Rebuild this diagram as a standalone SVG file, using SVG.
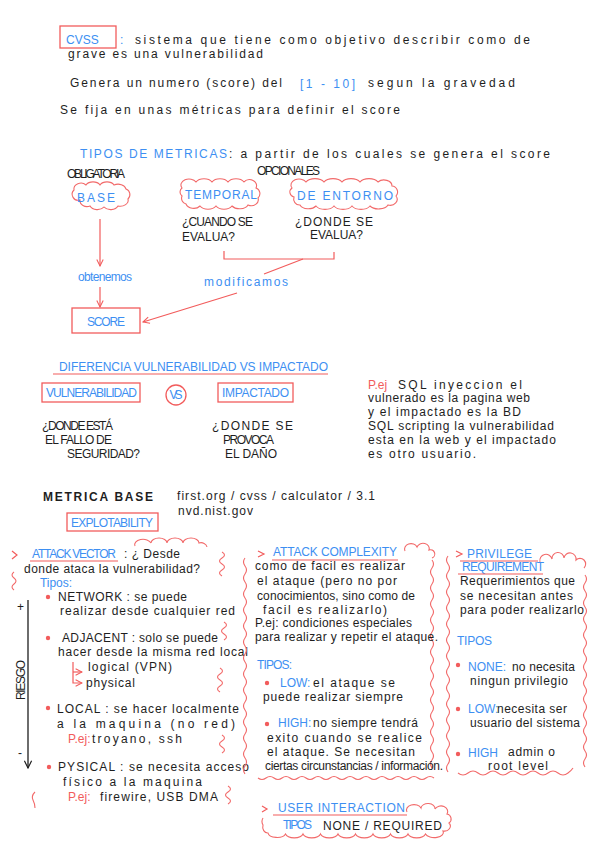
<svg xmlns="http://www.w3.org/2000/svg" width="601" height="848" viewBox="0 0 601 848">
<defs>
<style>
text{font-family:"Liberation Sans",Arial,sans-serif;font-size:12px;fill:#1e1e1e}
.b{fill:#3d8ff2}
.r{fill:#f25c5c}
.box{fill:none;stroke:#f25c5c;stroke-width:1.3}
.ln{fill:none;stroke:#f25c5c;stroke-width:1.2}
.wv{fill:none;stroke:#f26a6a;stroke-width:1.1}
.dot{fill:#f25c5c}
</style>
<marker id="arr" viewBox="0 0 10 10" refX="9" refY="5" markerWidth="8" markerHeight="8" orient="auto" markerUnits="userSpaceOnUse"><path d="M1,1 L9,5 L1,9" fill="none" stroke="#f25c5c" stroke-width="1.3"/></marker>
<marker id="arrk" viewBox="0 0 10 10" refX="9" refY="5" markerWidth="9" markerHeight="9" orient="auto" markerUnits="userSpaceOnUse"><path d="M1,1 L9,5 L1,9" fill="none" stroke="#1e1e1e" stroke-width="1.3"/></marker>
</defs>
<rect width="601" height="848" fill="#ffffff"/>

<g id="intro">
<g id="cvss"><rect class="box" x="60" y="26" width="56" height="22"/><text class="b" x="66" y="44" font-size="19">CVSS</text></g>
<text class="b" x="120" y="44">:</text>
<text x="135" y="44" font-size="13" textLength="395" lengthAdjust="spacing">sistema que tiene como objetivo describir  como de</text>
<text x="68" y="58" font-size="13" textLength="195" lengthAdjust="spacing">grave es una vulnerabilidad</text>
<text x="70" y="87" font-size="13" textLength="212" lengthAdjust="spacing">Genera un numero (score) del</text>
<text class="b" x="300" y="88" font-size="15" textLength="55" lengthAdjust="spacing">[1 - 10]</text>
<text x="368" y="87" font-size="13" textLength="147" lengthAdjust="spacing">segun la gravedad</text>
<text x="60" y="114" font-size="13" textLength="340" lengthAdjust="spacing">Se fija en unas métricas para definir el score</text>
</g>

<g id="tipos">
<text class="b" x="80" y="158" font-size="11" textLength="147" lengthAdjust="spacing">TIPOS DE METRICAS</text>
<text x="229" y="158" font-size="13" textLength="321" lengthAdjust="spacing">: a partir de los cuales se genera el score</text>
<text x="67" y="178" font-size="7" textLength="58" lengthAdjust="spacing">OBLIGATORIA</text>
<text x="257" y="175" font-size="7.5" textLength="63" lengthAdjust="spacing">OPCIONALES</text>
</g>

<g id="base">
<path class="wv" d="M74,190 a7,6 0 0 1 12,-5 a8,6 0 0 1 14,0 a8,6 0 0 1 14,0 a8,6 0 0 1 12,4 a6,6 0 0 1 2,10 a8,6 0 0 1 -10,7 a8,6 0 0 1 -14,1 a8,6 0 0 1 -14,-1 a7,6 0 0 1 -10,-6 a6,6 0 0 1 -6,-10 z"/>
<text class="b" x="77" y="202" font-size="15" textLength="38" lengthAdjust="spacing">BASE</text>
</g>

<g id="temporal">
<path class="wv" d="M182,188 a8,6 0 0 1 14,-6 a9,6 0 0 1 16,0 a9,6 0 0 1 16,0 a9,6 0 0 1 16,0 a7,6 0 0 1 12,6 a6,6 0 0 1 2,10 a7,6 0 0 1 -10,7 a9,6 0 0 1 -16,1 a9,6 0 0 1 -16,0 a9,6 0 0 1 -16,0 a8,6 0 0 1 -14,-2 a6,6 0 0 1 -4,-8 a5,5 0 0 1 0,-8 z"/>
<text class="b" x="185" y="199" font-size="14" textLength="72" lengthAdjust="spacing">TEMPORAL</text>
<text x="182" y="226" font-size="10.5" textLength="71" lengthAdjust="spacing">¿CUANDO SE</text>
<text x="182" y="241" font-size="11" textLength="53" lengthAdjust="spacing">EVALUA?</text>
</g>

<g id="entorno">
<path class="wv" d="M292,188 a8,6 0 0 1 14,-6 a10,6 0 0 1 18,0 a10,6 0 0 1 18,0 a10,6 0 0 1 18,0 a10,6 0 0 1 18,0 a8,6 0 0 1 14,4 a6,6 0 0 1 4,10 a7,6 0 0 1 -8,9 a10,6 0 0 1 -18,1 a10,6 0 0 1 -18,0 a10,6 0 0 1 -18,0 a10,6 0 0 1 -18,0 a9,6 0 0 1 -16,-1 a6,6 0 0 1 -6,-8 a5,5 0 0 1 -2,-9 z"/>
<text class="b" x="297" y="200" font-size="15" textLength="96" lengthAdjust="spacing">DE ENTORNO</text>
<text x="295" y="226" font-size="11.5" textLength="78" lengthAdjust="spacing">¿DONDE SE</text>
<text x="310" y="239" font-size="11" textLength="53" lengthAdjust="spacing">EVALUA?</text>
</g>

<g id="score">
<rect class="box" x="72" y="308" width="68" height="25"/>
<text class="b" x="87" y="326" font-size="11.5" textLength="38" lengthAdjust="spacing">SCORE</text>
</g>

<g id="labels">
<text class="b" x="78" y="281" font-size="10.5" textLength="54" lengthAdjust="spacing">obtenemos</text>
<text class="b" x="204" y="286" textLength="84" lengthAdjust="spacing">modificamos</text>
</g>

<g id="connectors">
<line class="ln" x1="100" y1="219" x2="100" y2="266" marker-end="url(#arr)"/>
<line class="ln" x1="100" y1="287" x2="100" y2="307" marker-end="url(#arr)"/>
<path class="ln" d="M224,251 L224,259 L334,259 L334,252"/>
<line class="ln" x1="303" y1="259" x2="264" y2="274"/>
<line class="ln" x1="237" y1="293" x2="143" y2="322" marker-end="url(#arr)"/>
<line x1="28" y1="600" x2="28" y2="768" stroke="#1e1e1e" stroke-width="1.3" marker-end="url(#arrk)"/>
<path class="ln" d="M73,662 L73,683 L82,683" marker-end="url(#arr)"/>
<path class="ln" d="M73,672 L82,672" marker-end="url(#arr)"/>
</g>

<g id="diferencia">
<text class="b" x="59" y="371" font-size="10.5" textLength="269" lengthAdjust="spacing">DIFERENCIA VULNERABILIDAD VS IMPACTADO</text>
<line class="ln" x1="53" y1="374" x2="328" y2="374"/>
<g id="vulnerabilidad"><rect class="box" x="42" y="383" width="98" height="19"/><text class="b" x="46" y="397" font-size="9.5" textLength="91" lengthAdjust="spacing">VULNERABILIDAD</text></g>
<g id="vs"><circle class="box" cx="176" cy="395" r="10"/><text class="b" x="169.5" y="398.5" font-size="9.5" textLength="13" lengthAdjust="spacing">VS</text></g>
<g id="impactado"><rect class="box" x="218" y="383" width="75" height="19"/><text class="b" x="222" y="397" font-size="10" textLength="67" lengthAdjust="spacing">IMPACTADO</text></g>
<text x="42" y="430" font-size="10.5" textLength="71" lengthAdjust="spacing">¿DONDE ESTÁ</text>
<text x="45" y="444" font-size="10.5" textLength="67" lengthAdjust="spacing">EL FALLO DE</text>
<text x="67" y="458" font-size="10.5" textLength="73" lengthAdjust="spacing">SEGURIDAD?</text>
<text x="212" y="430" font-size="11.5" textLength="81" lengthAdjust="spacing">¿DONDE SE</text>
<text x="223" y="444" font-size="10.5" textLength="51" lengthAdjust="spacing">PROVOCA</text>
<text x="225" y="458" font-size="10.5" textLength="52" lengthAdjust="spacing">EL DAÑO</text>
</g>

<g id="ejemplo">
<text class="r" x="368" y="389" font-size="11.5">P.ej</text>
<text x="398" y="389" textLength="124" lengthAdjust="spacing">SQL inyeccion    el</text>
<text x="368" y="402" textLength="162" lengthAdjust="spacing">vulnerado es la pagina web</text>
<text x="368" y="416" textLength="153" lengthAdjust="spacing">y el impactado es la BD</text>
<text x="368" y="430" textLength="186" lengthAdjust="spacing">SQL scripting la vulnerabilidad</text>
<text x="368" y="444" textLength="188" lengthAdjust="spacing">esta en la web y el impactado</text>
<text x="368" y="458" textLength="108" lengthAdjust="spacing">es otro usuario.</text>
</g>

<g id="metrica-base">
<text x="43" y="501" font-size="16" font-weight="bold" textLength="110" lengthAdjust="spacing">METRICA BASE</text>
<text x="177" y="500" font-size="12.5" textLength="198" lengthAdjust="spacing">first.org / cvss / calculator / 3.1</text>
<text x="178" y="515" font-size="12.5" textLength="75" lengthAdjust="spacing">nvd.nist.gov</text>
<g id="explotability"><rect class="box" x="67" y="513" width="91" height="18"/><text class="b" x="71" y="527" font-size="10" textLength="82" lengthAdjust="spacing">EXPLOTABILITY</text></g>
<path class="wv" d="M135,546 a8,5 0 0 1 16,-3 a8,5 0 0 1 16,0 a8,5 0 0 1 16,0 a8,5 0 0 1 16,0 a6,5 0 0 1 8,4"/>
</g>

<g id="attack-vector">
<path class="ln" d="M12,551 L17,555 L12,559"/>
<path class="wv" d="M14,572 q-4,3 0,6 t0,6 t0,6"/>
<path class="wv" d="M222,552 q5,3 0,6 t0,6 t0,6 t0,6"/>
<path class="wv" d="M224,622 q5,3 0,6 t0,6 t0,6"/>
<path class="wv" d="M220,668 q5,3 0,6 t0,6 t0,6 t0,6"/>
<path class="wv" d="M222,735 q5,3 0,6 t0,6 t0,6"/>
<path class="wv" d="M228,786 q5,3 0,6 t0,6 t0,6"/>
<path class="wv" d="M35,792 q-4,4 -2,8 t2,8"/>
<text class="b" x="32" y="558" font-size="10" textLength="84" lengthAdjust="spacing">ATTACK VECTOR</text>
<line class="ln" x1="30" y1="561" x2="118" y2="561"/>
<text x="124" y="558" font-size="11.5" textLength="56" lengthAdjust="spacing">: ¿ Desde</text>
<text x="24" y="573" font-size="11.5" textLength="176" lengthAdjust="spacing">donde ataca la vulnerabilidad?</text>
<text class="b" x="40" y="587" font-size="10.5" textLength="32" lengthAdjust="spacing">Tipos:</text>
<circle class="dot" cx="48" cy="597" r="2.2"/>
<text x="58" y="601" font-size="11" textLength="129" lengthAdjust="spacing">NETWORK : se puede</text>
<text x="60" y="615" font-size="11.5" textLength="175" lengthAdjust="spacing">realizar desde cualquier red</text>
<circle class="dot" cx="48" cy="638" r="2.2"/>
<text x="62" y="642" font-size="11" textLength="156" lengthAdjust="spacing">ADJACENT : solo se puede</text>
<text x="58" y="656" font-size="11.5" textLength="190" lengthAdjust="spacing">hacer desde la misma red local</text>
<text x="88" y="671" font-size="11" textLength="84" lengthAdjust="spacing">logical (VPN)</text>
<text x="86" y="687" font-size="11" textLength="49" lengthAdjust="spacing">physical</text>
<circle class="dot" cx="48" cy="708" r="2.2"/>
<text x="57" y="713" font-size="11.5" textLength="182" lengthAdjust="spacing">LOCAL : se hacer localmente</text>
<text x="57" y="728" font-size="12.5" textLength="178" lengthAdjust="spacing">a la maquina (no red)</text>
<text class="r" x="68" y="743" font-size="10">P.ej:</text>
<text x="92" y="743" font-size="12" textLength="90" lengthAdjust="spacing">troyano, ssh</text>
<circle class="dot" cx="49" cy="767" r="2.2"/>
<text x="58" y="771" font-size="11.5" textLength="191" lengthAdjust="spacing">PYSICAL : se necesita acceso</text>
<text x="63" y="786" font-size="12" textLength="139" lengthAdjust="spacing">físico a la maquina</text>
<text class="r" x="68" y="801" font-size="10">P.ej:</text>
<text x="100" y="801" font-size="11.5" textLength="118" lengthAdjust="spacing">firewire, USB DMA</text>
<text x="17" y="611" font-size="12">+</text>
<text x="18" y="757" font-size="12">-</text>
<text x="0" y="0" font-size="8" transform="translate(25,700) rotate(-90)" textLength="40" lengthAdjust="spacing">RIESGO</text>
</g>

<g id="attack-complexity">
<path class="wv" d="M245,558 q-3,4 0,8 t0,8 t0,8 t0,8 t0,8 t0,8 t0,8 t0,8 t0,8 t0,8 t0,8 t0,8 t0,8 t0,8 t0,8 t0,8 t0,8 t0,8 t0,8 t0,8 t0,8 t0,8 t0,8 t0,8 t0,8 t0,8 t0,8"/>
<path class="wv" d="M432,560 q3,4 0,8 t0,8 t0,8 t0,8 t0,8 t0,8 t0,8 t0,8 t0,8 t0,8 t0,8 t0,8 t0,8 t0,8 t0,8 t0,8 t0,8 t0,8 t0,8 t0,8 t0,8 t0,8 t0,8 t0,8 t0,8 t0,8"/>
<path class="wv" d="M258,778 q4,3 8,0 t8,0 t8,0 t8,0 t8,0 t8,0 t8,0 t8,0 t8,0 t8,0 t8,0 t8,0 t8,0 t8,0 t8,0 t8,0 t8,0 t8,0 t8,0 t8,0 t8,0 t8,0"/>
<path class="wv" d="M405,551 a6,5 0 0 1 12,-4 a6,5 0 0 1 12,3 a4,4 0 0 1 3,8"/>
<path class="ln" d="M258,551 L264,554 L258,557"/>
<text class="b" x="273" y="556" font-size="11" textLength="124" lengthAdjust="spacing">ATTACK COMPLEXITY</text>
<line class="ln" x1="272" y1="560" x2="398" y2="560"/>
<text x="255" y="570" font-size="11" textLength="150" lengthAdjust="spacing">como de facil es realizar</text>
<text x="257" y="585" font-size="11" textLength="140" lengthAdjust="spacing">el ataque (pero no por</text>
<text x="257" y="600" font-size="11" textLength="158" lengthAdjust="spacing">conocimientos, sino como de</text>
<text x="263" y="614" font-size="11.5" textLength="124" lengthAdjust="spacing">facil es realizarlo)</text>
<text x="255" y="627" font-size="10.5" textLength="157" lengthAdjust="spacing">P.ej: condiciones especiales</text>
<text x="255" y="641" font-size="10.5" textLength="183" lengthAdjust="spacing">para realizar y repetir el ataque.</text>
<text class="b" x="257" y="669" font-size="9.5" textLength="35" lengthAdjust="spacing">TIPOS:</text>
<circle class="dot" cx="267" cy="683" r="2.2"/>
<text class="b" x="280" y="687" font-size="10">LOW:</text>
<text x="313" y="687" font-size="11.5" textLength="82" lengthAdjust="spacing">el ataque se</text>
<text x="263" y="701" font-size="11" textLength="140" lengthAdjust="spacing">puede realizar siempre</text>
<circle class="dot" cx="267" cy="724" r="2.2"/>
<text class="b" x="278" y="727" font-size="10">HIGH:</text>
<text x="313" y="727" font-size="11" textLength="105" lengthAdjust="spacing">no siempre tendrá</text>
<text x="267" y="742" font-size="11.5" textLength="155" lengthAdjust="spacing">exito cuando se realice</text>
<text x="267" y="756" font-size="11" textLength="148" lengthAdjust="spacing">el ataque. Se necesitan</text>
<text x="265" y="770" font-size="10" textLength="178" lengthAdjust="spacing">ciertas circunstancias / información.</text>
</g>

<g id="privilege-requirement">
<path class="wv" d="M448,556 q-3,4 0,8 t0,8 t0,8 t0,8 t0,8 t0,8 t0,8 t0,8 t0,8 t0,8 t0,8 t0,8 t0,8 t0,8 t0,8 t0,8 t0,8 t0,8 t0,8 t0,8 t0,8 t0,8 t0,8 t0,8 t0,8 t0,8 t0,8"/>
<path class="wv" d="M585,575 q3,4 0,8 t0,8 t0,8 t0,8 t0,8 t0,8 t0,8 t0,8 t0,8 t0,8 t0,8 t0,8 t0,8 t0,8 t0,8 t0,8 t0,8 t0,8 t0,8 t0,8 t0,8 t0,8 t0,8 t0,8"/>
<path class="wv" d="M540,562 a6,6 0 0 1 12,-3 a6,6 0 0 1 12,-1 a6,6 0 0 1 12,2 a5,5 0 0 1 8,8"/>
<path class="wv" d="M458,773 q5,4 10,0 t10,0 t10,0 t10,0 t10,0 t10,0 t10,0 t10,0 t10,0 t10,0 t10,0 q3,-2 5,-5"/>
<path class="ln" d="M456,551 L462,554 L456,557"/>
<text class="b" x="467" y="558" font-size="11" textLength="65" lengthAdjust="spacing">PRIVILEGE</text>
<line class="ln" x1="460" y1="561" x2="538" y2="561"/>
<text class="b" x="462" y="571" font-size="10.5" textLength="82" lengthAdjust="spacing">REQUIREMENT</text>
<line class="ln" x1="458" y1="574" x2="543" y2="574"/>
<text x="460" y="585" font-size="11" textLength="115" lengthAdjust="spacing">Requerimientos que</text>
<text x="460" y="600" font-size="11" textLength="113" lengthAdjust="spacing">se necesitan antes</text>
<text x="460" y="614" font-size="11" textLength="124" lengthAdjust="spacing">para poder realizarlo</text>
<text class="b" x="457" y="645" font-size="10.5" textLength="35" lengthAdjust="spacing">TIPOS</text>
<circle class="dot" cx="458" cy="665" r="2.2"/>
<text class="b" x="468" y="671" font-size="10">NONE:</text>
<text x="512" y="671" font-size="11" textLength="63" lengthAdjust="spacing">no necesita</text>
<text x="470" y="685" font-size="11" textLength="98" lengthAdjust="spacing">ningun privilegio</text>
<circle class="dot" cx="458" cy="709" r="2.2"/>
<text class="b" x="468" y="713" font-size="10">LOW:</text>
<text x="497" y="713" font-size="11" textLength="70" lengthAdjust="spacing">necesita ser</text>
<text x="470" y="727" font-size="11" textLength="110" lengthAdjust="spacing">usuario del sistema</text>
<circle class="dot" cx="458" cy="754" r="2.2"/>
<text class="b" x="468" y="757" font-size="10">HIGH</text>
<text x="508" y="756" font-size="11" textLength="47" lengthAdjust="spacing">admin o</text>
<text x="488" y="770" font-size="11" textLength="60" lengthAdjust="spacing">root level</text>
</g>

<g id="user-interaction">
<path class="wv" d="M407,812 a7,5 0 0 1 14,-4 a7,5 0 0 1 14,1 a6,5 0 0 1 12,5 a5,5 0 0 1 2,9 a6,5 0 0 1 -6,8 a9,5 0 0 1 -17.5,3 a9,5 0 0 1 -17.5,0 a9,5 0 0 1 -17.5,0 a9,5 0 0 1 -17.5,0 a9,5 0 0 1 -17.5,0 a9,5 0 0 1 -17.5,0 a9,5 0 0 1 -17.5,0 a9,5 0 0 1 -17.5,0 a9,5 0 0 1 -17.5,0 a9,5 0 0 1 -17.5,-1 a5,6 0 0 1 -5,-8 a5,6 0 0 1 0,-7"/>
<path class="ln" d="M262,806 L267,809 L262,812"/>
<text class="b" x="278" y="812" font-size="11" textLength="127" lengthAdjust="spacing">USER INTERACTION</text>
<line class="ln" x1="273" y1="815" x2="407" y2="815"/>
<text class="b" x="283" y="829" font-size="9.5" textLength="29" lengthAdjust="spacing">TIPOS</text>
<text x="323" y="830" font-size="13" textLength="119" lengthAdjust="spacing">NONE / REQUIRED</text>
</g>
</svg>
